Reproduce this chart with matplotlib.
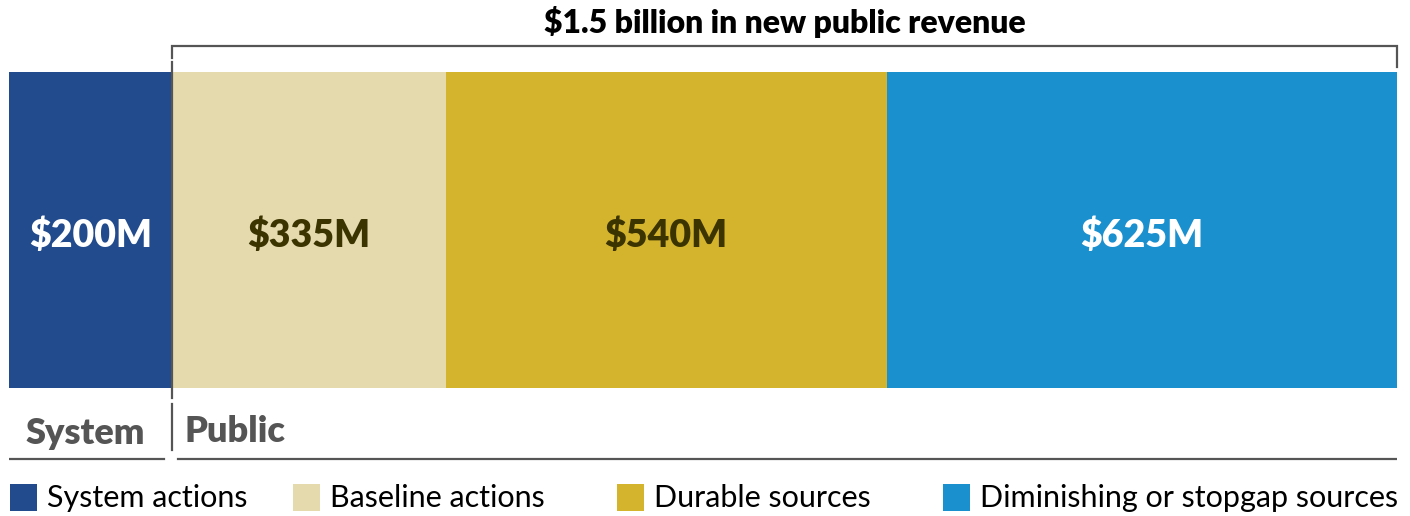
import matplotlib
matplotlib.use("Agg")
import matplotlib.pyplot as plt
from matplotlib.patches import Rectangle

# datos del gráfico
categorias = ["System actions", "Baseline actions", "Durable sources", "Diminishing or stopgap sources"]
valores = [200, 335, 540, 625]
etiquetas = ["$200M", "$335M", "$540M", "$625M"]
colores = ["#214B8C", "#E4DAAE", "#D4B42D", "#1A90CF"]
colores_texto = ["white", "#3B3300", "#3B3300", "white"]
titulo = "$1.5 billion in new public revenue"
grupos = ["System", "Public"]

plt.rcParams['font.family'] = ['Lato', 'DejaVu Sans']
gris = "#555555"

W, H = 1410, 516
fig = plt.figure(figsize=(W / 100, H / 100), dpi=100)

# eje principal: x en valores, y en pixeles
total = sum(valores)
ax = fig.add_axes([9 / W, 0, 1388 / W, 1])
ax.set_xlim(0, total)
ax.set_ylim(H, 0)
ax.axis("off")

izq = 0
for v, lab, c, ct in zip(valores, etiquetas, colores, colores_texto):
    ax.barh(230, v, left=izq, height=316, color=c, linewidth=0)
    ax.text(izq + v / 2, 235, lab, ha="center", va="center",
            fontsize=27, fontweight="heavy", color=ct)
    izq += v

# corchete de ingresos públicos
sep = valores[0]
ax.plot([sep, sep, total, total], [58, 46, 46, 67], color=gris, lw=1.6,
        solid_joinstyle="miter", clip_on=False)
ax.plot([sep, sep], [62, 398], color=gris, lw=1.6)
ax.plot([sep, sep], [404, 450], color=gris, lw=1.6)
ax.text((sep + total) / 2, 22, titulo, ha="center", va="center",
        fontsize=23, fontweight="heavy", color="black")

# grupos System / Public
px = total / 1388
ax.plot([0, sep - 8 * px], [459, 459], color=gris, lw=1.6)
ax.plot([sep + 6 * px, total], [459, 459], color=gris, lw=1.6)
ax.text(17 * px, 434, grupos[0], ha="left", va="center", fontsize=26,
        fontweight="heavy", color=gris)
ax.text(sep + 12 * px, 432, grupos[1], ha="left", va="center", fontsize=26,
        fontweight="heavy", color=gris)

# leyenda manual en pixeles
lx = fig.add_axes([0, 0, 1, 1])
lx.set_xlim(0, W)
lx.set_ylim(H, 0)
lx.axis("off")
pos_leyenda = [10, 293, 617, 943]
for x0, cat, c in zip(pos_leyenda, categorias, colores):
    lx.add_patch(Rectangle((x0, 484), 27, 27, color=c, lw=0))
    lx.text(x0 + 37, 498, cat, ha="left", va="center", fontsize=22, color="black")

fig.savefig("out.png", dpi=100)
